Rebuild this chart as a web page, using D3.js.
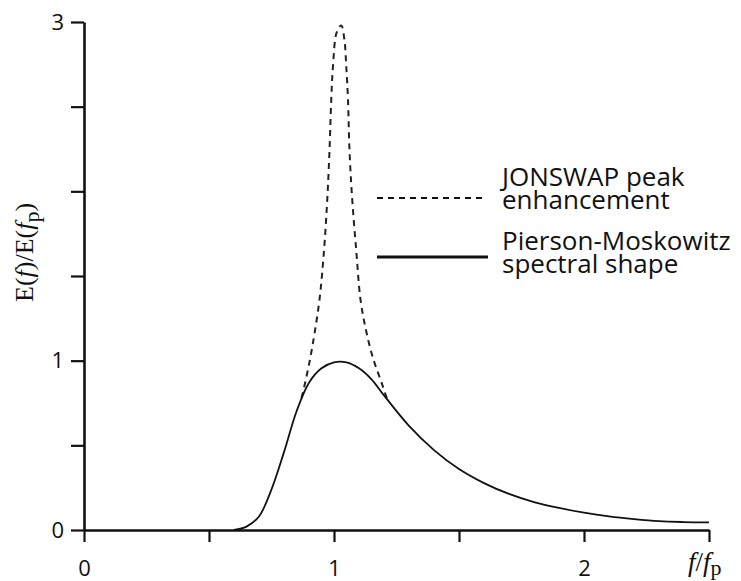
<!DOCTYPE html>
<html>
<head>
<meta charset="utf-8">
<script src="https://cdn.jsdelivr.net/npm/d3@7"></script>
<style>
  body { margin: 0; background: #fff; }
  svg { display: block; }
  .tick text { font-family: "Open Sans", sans-serif; font-size: 22px; fill: #111; }
</style>
</head>
<body>
<div id="chart"></div>
<script>
// values
var pmX = [0.6, 0.65, 0.7, 0.75, 0.8, 0.85, 0.9, 0.95, 1.0, 1.05, 1.1, 1.15, 1.2, 1.3, 1.4, 1.5, 1.6, 1.7, 1.8, 1.9, 2.0, 2.1, 2.2, 2.3, 2.4, 2.5];
var pmY = [0, 0.02, 0.08, 0.24, 0.46, 0.70, 0.87, 0.955, 0.99, 0.99, 0.955, 0.89, 0.795, 0.615, 0.472, 0.36, 0.277, 0.213, 0.165, 0.13, 0.102, 0.08, 0.064, 0.052, 0.047, 0.045];

var jsX = [0.87, 0.88, 0.903, 0.922, 0.942, 0.96, 0.973, 0.982, 0.989, 0.996, 1.011, 1.029, 1.042, 1.049, 1.056, 1.062, 1.073, 1.089, 1.106, 1.128, 1.155, 1.195, 1.215];
var jsY = [0.78, 0.84, 1.0, 1.16, 1.36, 1.65, 1.95, 2.24, 2.54, 2.74, 2.94, 2.98, 2.89, 2.74, 2.54, 2.24, 1.95, 1.65, 1.36, 1.18, 1.02, 0.85, 0.76];

var xTicks = [0, 0.5, 1, 1.5, 2, 2.5];
var xTickLabels = ["0", "", "1", "", "2", ""];
var yTicks = [0, 0.5, 1, 1.5, 2, 2.5, 3];
var yTickLabels = ["0", "", "1", "", "", "", "3"];

var legendLabels = [["JONSWAP peak", "enhancement"], ["Pierson-Moskowitz", "spectral shape"]];

var width = 741, height = 581;

var svg = d3.select("#chart")
    .append("svg")
    .attr("width", width)
    .attr("height", height);

var xScale = d3.scaleLinear()
    .domain([0, 2.5])
    .range([84, 709]);

var yScale = d3.scaleLinear()
    .domain([0, 3])
    .range([530, 22]);

// axes
svg.append("g")
    .attr("transform", "translate(0,530)")
    .call(d3.axisBottom(xScale)
        .tickValues(xTicks)
        .tickSize(12)
        .tickSizeOuter(0)
        .tickPadding(18)
        .tickFormat(function(d, i) { return xTickLabels[i]; }));

svg.append("g")
    .attr("transform", "translate(84,0)")
    .call(d3.axisLeft(yScale)
        .tickValues(yTicks)
        .tickSize(13)
        .tickSizeOuter(0)
        .tickPadding(7)
        .tickFormat(function(d, i) { return yTickLabels[i]; }));

svg.selectAll(".domain").attr("stroke", "#111").attr("stroke-width", 2.6);
svg.selectAll(".tick line").attr("stroke", "#111").attr("stroke-width", 2.2);

// curves
var line = d3.line()
    .x(function(d) { return xScale(d[0]); })
    .y(function(d) { return yScale(d[1]); })
    .curve(d3.curveCatmullRom.alpha(0.5));

var pmData = pmX.map(function(x, i) { return [x, pmY[i]]; });
var jsData = jsX.map(function(x, i) { return [x, jsY[i]]; });

svg.append("path")
    .datum(jsData)
    .attr("fill", "none")
    .attr("stroke", "#222")
    .attr("stroke-width", 2)
    .attr("stroke-dasharray", "6,5")
    .attr("d", line);

svg.append("path")
    .datum(pmData)
    .attr("fill", "none")
    .attr("stroke", "#111")
    .attr("stroke-width", 1.8)
    .attr("d", line);

// legend
var legend = svg.append("g");
var legendY = [198, 257];
var legendTextY = [186, 250];
legendLabels.forEach(function(lines, i) {
  legend.append("line")
      .attr("x1", 377).attr("x2", i == 0 ? 483 : 488)
      .attr("y1", legendY[i]).attr("y2", legendY[i])
      .attr("stroke", "#111")
      .attr("stroke-width", i == 0 ? 2.2 : 3)
      .attr("stroke-dasharray", i == 0 ? "6,5" : null);
  lines.forEach(function(s, j) {
    legend.append("text")
        .attr("x", 502)
        .attr("y", legendTextY[i] + j * 23)
        .style("font-family", "Open Sans, sans-serif")
        .style("font-size", "26px")
        .attr("fill", "#111")
        .text(s);
  });
});

// y axis title
var yTitle = svg.append("text")
    .attr("transform", "translate(33,302) rotate(-90)")
    .style("font-family", "Liberation Serif, serif")
    .style("font-size", "26px")
    .attr("fill", "#111");
yTitle.append("tspan").text("E(");
yTitle.append("tspan").style("font-style", "italic").text("f");
yTitle.append("tspan").text(")/E(");
yTitle.append("tspan").style("font-style", "italic").text("f");
yTitle.append("tspan").attr("dy", 6).style("font-size", "22px").text("p");
yTitle.append("tspan").attr("dy", -6).text(")");

// x axis title
var xTitle = svg.append("text")
    .attr("x", 688)
    .attr("y", 571)
    .style("font-family", "Liberation Serif, serif")
    .style("font-size", "27px")
    .attr("fill", "#111");
xTitle.append("tspan").style("font-style", "italic").text("f");
xTitle.append("tspan").text("/");
xTitle.append("tspan").style("font-style", "italic").text("f");
xTitle.append("tspan").attr("dy", 4).style("font-size", "22px").text("p");
</script>
</body>
</html>
